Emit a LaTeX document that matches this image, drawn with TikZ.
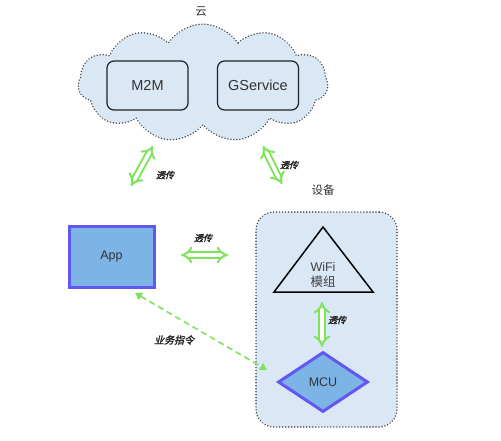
\documentclass[tikz,border=0pt]{standalone}
\usepackage{fontspec}
\setmainfont{Liberation Sans}
\newfontfamily\cjk{Noto Sans CJK SC}
\newfontfamily\cjkbi{Noto Sans CJK SC}[FakeSlant=0.25,FakeBold=2]
\usetikzlibrary{shapes.geometric,shapes.symbols,arrows.meta}
\definecolor{cloudfill}{HTML}{DAE8F5}
\definecolor{appfill}{HTML}{7DB4E6}
\definecolor{appdraw}{HTML}{6357F2}
\definecolor{arrgreen}{HTML}{7FE35C}
\definecolor{dotgray}{HTML}{444444}
\definecolor{boxdraw}{HTML}{222222}
\begin{document}
\begin{tikzpicture}[x=1pt,y=-1pt,
  cloudshape/.style={cloud, cloud puffs=11, cloud puff arc=115, fill=cloudfill, draw=dotgray,
     line width=1.6pt, dash pattern=on 0.01pt off 3pt, line cap=round, inner sep=0pt},
  srvbox/.style={draw=boxdraw, line width=1.2pt, rounded corners=7pt, minimum width=81pt, minimum height=49pt,
     inner sep=0pt, font=\fontsize{14.5}{16}\selectfont, text=black!80},
  devbox/.style={fill=cloudfill, draw=dotgray, line width=1.6pt, dash pattern=on 0.01pt off 3pt, line cap=round,
     rounded corners=18pt, minimum width=141pt, minimum height=215pt, inner sep=0pt},
  appbox/.style={fill=appfill, draw=appdraw, line width=3pt, minimum width=85pt, minimum height=61pt,
     inner sep=0pt, font=\fontsize{12.5}{14}\selectfont, text=black!80},
  mcubox/.style={diamond, aspect=1.5, fill=appfill, draw=appdraw, line width=3pt, minimum width=90pt,
     minimum height=60pt, inner sep=0pt, font=\fontsize{12.5}{14}\selectfont, text=black!80},
  tri/.style={draw=black, line width=1.5pt, line join=miter},
  dblarrow/.style={draw=arrgreen, line width=2pt, double=white, double distance=3.5pt,
     {Implies[length=6pt,width=13pt]}-{Implies[length=6pt,width=13pt]}},
  dasharrow/.style={draw=arrgreen, line width=1.6pt, dash pattern=on 6pt off 4pt,
     {Triangle[length=7pt,width=8pt]}-{Triangle[length=7pt,width=8pt]}},
  lbl/.style={font=\cjkbi\fontsize{9}{10}\selectfont, text=black!85, inner sep=0pt},
  title/.style={font=\cjk\fontsize{11.5}{13}\selectfont, text=black!80, inner sep=0pt}
]
\useasboundingbox (0,0) rectangle (501,440);
\fill[white] (0,0) rectangle (501,440);

% cloud
\node[cloudshape, minimum width=250pt, minimum height=118pt] (cloud) at (203,83) {};
\node[title] (cloudt) at (201,12) {云};
\node[srvbox] (m2m) at (147.5,85.5) {M2M};
\node[srvbox] (gs) at (258,85.5) {GService};

% device
\node[title] (devt) at (323,190) {设备};
\node[devbox] (dev) at (326.5,319.5) {};
\coordinate (ta) at (323,227);
\coordinate (tl) at (274,292);
\coordinate (tr) at (373,292);
\draw[tri] (ta) -- (tr) -- (tl) -- cycle;
\node[inner sep=0pt, align=center, font=\fontsize{12.5}{15}\selectfont, text=black!75] (wifi) at (323,275)
  {WiFi\\{\cjk 模组}};
\node[mcubox] (mcu) at (323,382) {MCU};

% app
\node[appbox] (app) at (111.5,256.5) {App};

% arrows
\coordinate (a1t) at (153,146);
\coordinate (a1b) at (131,186);
\draw[dblarrow] (a1t) -- (a1b);
\node[lbl] (l1) at (165,175) {透传};

\coordinate (a2t) at (263,146);
\coordinate (a2b) at (282,184);
\draw[dblarrow] (a2t) -- (a2b);
\node[lbl] (l2) at (289,165) {透传};

\coordinate (a3l) at (181,255);
\coordinate (a3r) at (228,255);
\draw[dblarrow] (a3l) -- (a3r);
\node[lbl] (l3) at (203,238) {透传};

\coordinate (a4t) at (322,302);
\coordinate (a4b) at (322,347);
\draw[dblarrow] (a4t) -- (a4b);
\node[lbl] (l4) at (337,320) {透传};

\coordinate (d1) at (135,293);
\coordinate (d2) at (267,370);
\draw[dasharrow] (d1) -- (d2);
\node[lbl, font=\cjkbi\fontsize{10}{11}\selectfont] (l5) at (174,340) {业务指令};
\end{tikzpicture}
\end{document}
